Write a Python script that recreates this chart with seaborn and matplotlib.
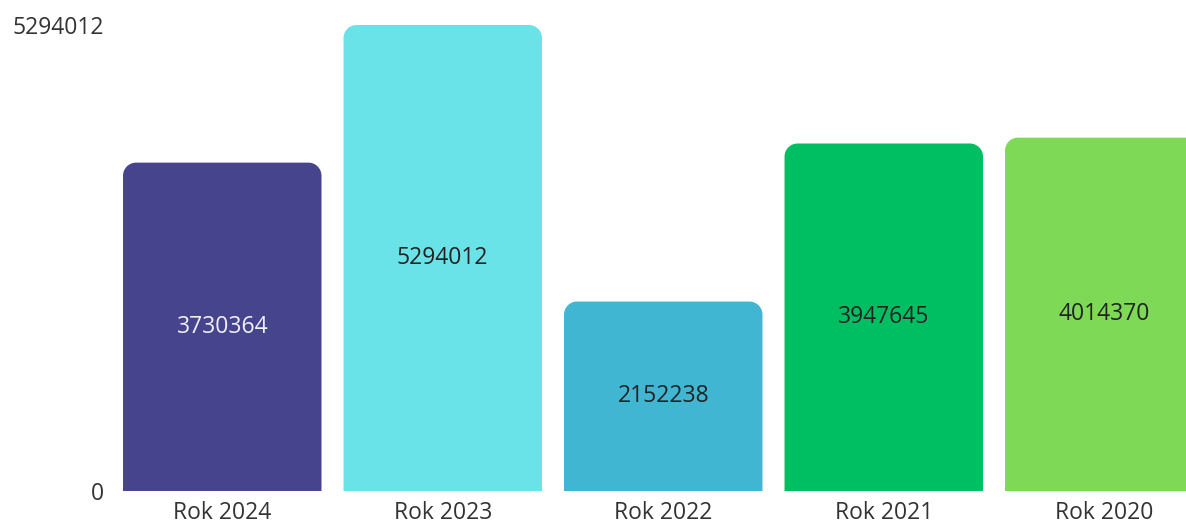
import matplotlib
matplotlib.use("Agg")
import matplotlib.pyplot as plt
import seaborn as sns
import pandas as pd
from matplotlib.path import Path
from matplotlib.patches import PathPatch

categories = ["Rok 2024", "Rok 2023", "Rok 2022", "Rok 2021", "Rok 2020"]
values = [3730364, 5294012, 2152238, 3947645, 4014370]
colors = ["#46448C", "#6AE3E8", "#41B6D3", "#00BF63", "#7ED957"]
label_colors = ["#F0F0F5", "#222222", "#222222", "#222222", "#222222"]

sns.set_theme(style="white")
plt.rcParams["font.family"] = ["Open Sans", "DejaVu Sans"]

W, H = 1186, 525
fig = plt.figure(figsize=(W / 100, H / 100), dpi=100)
ax = fig.add_axes([112 / W, 34 / H, 1102.5 / W, 466 / H])

df = pd.DataFrame({"cat": categories, "val": values})
sns.barplot(data=df, x="cat", y="val", hue="cat", palette=colors, legend=False,
            width=0.9, ax=ax, saturation=1)

ymax = max(values)
ax.set_ylim(0, ymax)
ax.set_xlim(-0.5, len(categories) - 0.5)
ax.set_yticks([0, ymax])
ax.set_yticklabels(["0", str(ymax)])
ax.set_xlabel("")
ax.set_ylabel("")
for s in ax.spines.values():
    s.set_visible(False)
ax.tick_params(axis="both", length=0, labelsize=16.5, colors="#333333")
ax.tick_params(axis="x", pad=7)
ax.tick_params(axis="y", pad=6)

# rounded top corners
fig.canvas.draw()
bbox = ax.get_window_extent()
px_per_x = bbox.width / (ax.get_xlim()[1] - ax.get_xlim()[0])
px_per_y = bbox.height / (ax.get_ylim()[1] - ax.get_ylim()[0])
r_px = 13
rx = r_px / px_per_x
ry = r_px / px_per_y
k = 0.5523
patches = list(ax.patches)
for p in patches:
    x0 = p.get_x(); w = p.get_width(); h = p.get_height(); fc = p.get_facecolor()
    x1 = x0 + w
    verts = [
        (x0, 0), (x0, h - ry),
        (x0, h - ry + k * ry), (x0 + rx - k * rx, h), (x0 + rx, h),
        (x1 - rx, h),
        (x1 - rx + k * rx, h), (x1, h - ry + k * ry), (x1, h - ry),
        (x1, 0), (x0, 0),
    ]
    codes = [Path.MOVETO, Path.LINETO,
             Path.CURVE4, Path.CURVE4, Path.CURVE4,
             Path.LINETO,
             Path.CURVE4, Path.CURVE4, Path.CURVE4,
             Path.LINETO, Path.CLOSEPOLY]
    ax.add_patch(PathPatch(Path(verts, codes), facecolor=fc, edgecolor="none", clip_on=False))
    p.remove()

for i, v in enumerate(values):
    ax.text(i, v / 2, str(v), ha="center", va="center", fontsize=16.5,
            color=label_colors[i])

fig.savefig("out.png", dpi=100)
